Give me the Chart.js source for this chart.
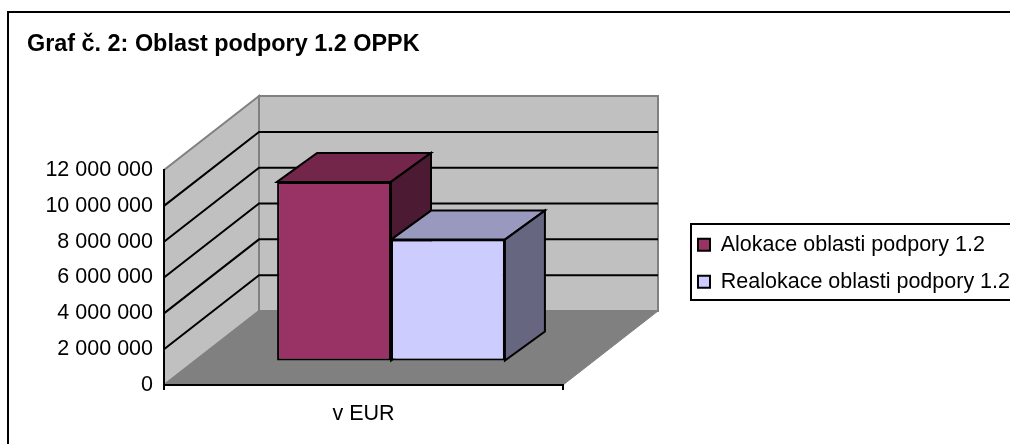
<!DOCTYPE html>
<html>
<head>
<meta charset="utf-8">
<title>Graf č. 2</title>
<script src="https://cdn.jsdelivr.net/npm/chart.js@4/dist/chart.umd.min.js"></script>
<style>
    html, body { margin: 0; padding: 0; background: #fff; overflow: hidden; }
    canvas { display: block; }
</style>
</head>
<body>
<canvas id="chart" width="1010" height="444"></canvas>
<script>
"use strict";

/*==========================================================
    DATA
==========================================================*/

const titleText = "Graf č. 2: Oblast podpory 1.2 OPPK";
const categories = ["v EUR"];
const alokace = [10000000];
const realokace = [6780000];
const seriesNames = ["Alokace oblasti podpory 1.2", "Realokace oblasti podpory 1.2"];
const yTickLabels = ["0", "2 000 000", "4 000 000", "6 000 000", "8 000 000", "10 000 000", "12 000 000"];

/*==========================================================
    3D LOOK (Excel style box, built on the real scales)
==========================================================*/

const FONT = "'Liberation Sans', Arial, sans-serif";
const LABEL_SIZE = 21.5;
const LEGEND_PADDING = 15.5;
const boxDepth = { x: 95, y: -74 };     // front plane -> back wall
const barShift = { x: 27.5, y: -24 };   // front plane -> front of the bars
const barDepth = { x: 40, y: -29 };

const shadeColors = [
    { top: "#732649", side: "#4D1A33" },
    { top: "#9999BF", side: "#666680" }
];

function poly(ctx, points, fill, stroke, width) {

    ctx.beginPath();
    points.forEach((p, i) => (i ? ctx.lineTo(p[0], p[1]) : ctx.moveTo(p[0], p[1])));
    ctx.closePath();

    if (fill) {
        ctx.fillStyle = fill;
        ctx.fill();
    }

    if (stroke) {
        ctx.strokeStyle = stroke;
        ctx.lineWidth = width;
        ctx.lineJoin = "miter";
        ctx.stroke();
    }

}

const box3d = {

    id: "box3d",

    afterLayout(chart) {

        // built-in legend, moved to where the reference has it.
        // The legend clips to its box, so the box runs to the canvas edge.
        const legend = chart.legend;
        const h = legend.height;

        legend.left = 698 - LEGEND_PADDING;
        legend.right = 1010;
        legend.top = 234 - LEGEND_PADDING;
        legend.bottom = legend.top + h;

    },

    beforeDraw(chart) {

        const { ctx, chartArea: a, scales } = chart;
        const dx = boxDepth.x;
        const dy = boxDepth.y;

        ctx.save();

        // outer frame, runs off the right and bottom of the picture
        ctx.strokeStyle = "#000";
        ctx.lineWidth = 2;
        ctx.beginPath();
        ctx.moveTo(8, 444);
        ctx.lineTo(8, 12);
        ctx.lineTo(1010, 12);
        ctx.stroke();

        poly(ctx, [[a.left, a.bottom], [a.left + dx, a.bottom + dy], [a.left + dx, a.top + dy], [a.left, a.top]], "#C0C0C0", "#808080", 2);
        poly(ctx, [[a.left + dx, a.top + dy], [a.right + dx, a.top + dy], [a.right + dx, a.bottom + dy], [a.left + dx, a.bottom + dy]], "#C0C0C0", "#808080", 2);
        poly(ctx, [[a.left, a.bottom], [a.right, a.bottom], [a.right + dx, a.bottom + dy], [a.left + dx, a.bottom + dy]], "#808080", "#808080", 1);

        // gridlines follow the value axis ticks round the two walls
        ctx.strokeStyle = "#000";
        ctx.lineWidth = 2;
        scales.y.ticks.forEach((tick) => {

            if (tick.value === scales.y.min || tick.value === scales.y.max) return;

            const y = scales.y.getPixelForValue(tick.value);

            ctx.beginPath();
            ctx.moveTo(a.left, y);
            ctx.lineTo(a.left + dx, y + dy);
            ctx.lineTo(a.right + dx, y + dy);
            ctx.stroke();

        });

        // legend frame
        ctx.strokeStyle = "#000";
        ctx.lineWidth = 2;
        ctx.beginPath();
        ctx.moveTo(1010, 224);
        ctx.lineTo(691, 224);
        ctx.lineTo(691, 300);
        ctx.lineTo(1010, 300);
        ctx.stroke();

        ctx.restore();

    },

    beforeDatasetsDraw(chart) {

        const ctx = chart.ctx;
        const dx = barDepth.x;
        const dy = barDepth.y;

        ctx.save();
        ctx.translate(barShift.x, barShift.y);

        // depth faces go first, left series then right, fronts come from the library
        chart.data.datasets.forEach((dataset, index) => {

            chart.getDatasetMeta(index).data.forEach((bar) => {

                const half = bar.width / 2;
                const l = bar.x - half;
                const r = bar.x + half;

                poly(ctx, [[l, bar.y], [l + dx, bar.y + dy], [r + dx, bar.y + dy], [r, bar.y]], shadeColors[index].top, "#000", 2);
                poly(ctx, [[r, bar.y], [r + dx, bar.y + dy], [r + dx, bar.base + dy], [r, bar.base]], shadeColors[index].side, "#000", 2);

            });

        });

    },

    afterDatasetsDraw(chart) {

        chart.ctx.restore();

    }

};

/*==========================================================
    CHART
==========================================================*/

new Chart(document.getElementById("chart"), {

    type: "bar",

    data: {
        labels: categories,
        datasets: [
            {
                label: seriesNames[0],
                data: alokace,
                backgroundColor: "#993366",
                borderColor: "#000",
                borderWidth: 2,
                borderSkipped: false,
                clip: false
            },
            {
                label: seriesNames[1],
                data: realokace,
                backgroundColor: "#CCCCFF",
                borderColor: "#000",
                borderWidth: 2,
                borderSkipped: false,
                clip: false
            }
        ]
    },

    options: {

        responsive: false,
        animation: false,
        events: [],

        layout: {
            padding: { left: 27, right: 147, top: 0, bottom: 0 }
        },

        datasets: {
            bar: { categoryPercentage: 0.571, barPercentage: 1 }
        },

        scales: {

            x: {
                afterFit(scale) { scale.height = 59; },
                grid: { offset: true, drawOnChartArea: false, drawTicks: true, tickLength: 5, color: "#000", lineWidth: 2 },
                border: { color: "#000", width: 2 },
                ticks: { color: "#000", padding: 11, maxRotation: 0, font: { family: FONT, size: LABEL_SIZE } }
            },

            y: {
                min: 0,
                max: 12000000,
                afterFit(scale) { scale.width = 137; },
                grid: { drawOnChartArea: false, drawTicks: false },
                border: { color: "#000", width: 2, dash: [10, 25.8], dashOffset: 23.8 },
                ticks: {
                    stepSize: 2000000,
                    autoSkip: false,
                    color: "#000",
                    padding: 11,
                    font: { family: FONT, size: LABEL_SIZE },
                    callback: (value, index) => yTickLabels[index]
                }
            }

        },

        plugins: {

            title: {
                display: true,
                text: titleText,
                align: "start",
                color: "#000",
                padding: { top: 31, bottom: 111 },
                font: { family: FONT, size: 23.4, weight: "bold" }
            },

            legend: {
                position: "right",
                align: "start",
                maxWidth: 300,
                labels: {
                    boxWidth: 12,
                    boxHeight: 12,
                    padding: LEGEND_PADDING,
                    color: "#000",
                    font: { family: FONT, size: LABEL_SIZE }
                }
            },

            tooltip: { enabled: false }

        }

    },

    plugins: [box3d]

});
</script>
</body>
</html>
